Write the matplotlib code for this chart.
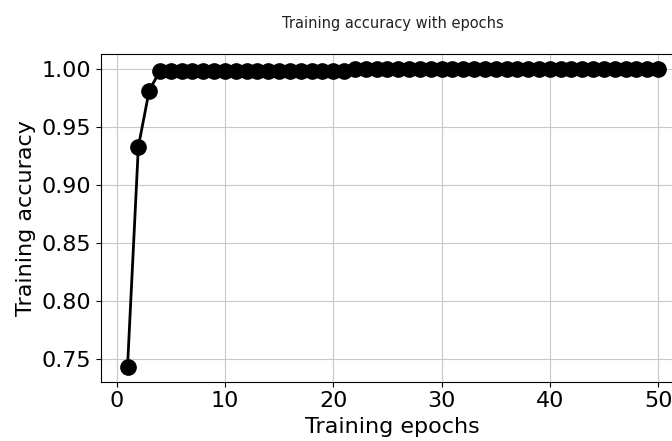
import matplotlib
matplotlib.use('Agg')
import matplotlib.pyplot as plt

# training accuracy per epoch
epochs = list(range(1, 51))
accuracy = ([0.743, 0.933, 0.9815]
            + [0.9986] * 18
            + [1.0] * 29)

fig = plt.figure(figsize=(6.72, 4.41), dpi=100)
ax = fig.add_axes([0.1503, 0.1345, 0.8685, 0.7424])

ax.plot(epochs, accuracy, color='black', marker='o', markersize=11, linewidth=2)
ax.set_title('Training accuracy with epochs', fontsize=10.5, pad=19, color='#222222')
ax.set_xlabel('Training epochs', fontsize=16)
ax.set_ylabel('Training accuracy', fontsize=16)
ax.tick_params(labelsize=16)
ax.set_yticks([0.75, 0.80, 0.85, 0.90, 0.95, 1.00])
ax.grid(True, color='#c8c8c8')

fig.savefig('out.png', dpi=100)
